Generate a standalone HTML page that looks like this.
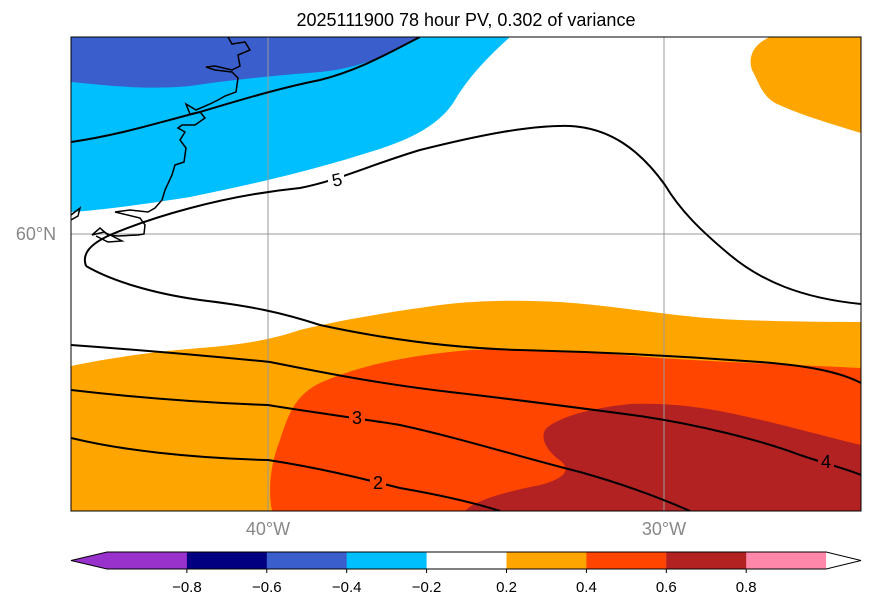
<!DOCTYPE html>
<html><head><meta charset="utf-8"><style>
body{margin:0;background:#fff;font-family:"Liberation Sans",sans-serif}
</style></head><body>
<svg width="873" height="608" viewBox="0 0 873 608">
<text x="466" y="26" font-size="18" text-anchor="middle">2025111900 78 hour PV, 0.302 of variance</text>
<defs><clipPath id="mc"><rect x="71" y="37" width="790" height="474"/></clipPath></defs>
<g clip-path="url(#mc)">
<rect x="71" y="37" width="790" height="474" fill="#fff"/>
<path fill="#00bfff" d="M71,37 L510,37 C490,55 470,75 455,100 C440,125 410,140 370,152 C320,168 260,183 190,197 C140,205 100,210 71,212 Z"/>
<path fill="#3a5fcd" d="M71,37 L418,37 C390,55 360,68 320,72 C270,76 230,80 190,86 C150,90 110,86 71,82 Z"/>
<path fill="#ffa500" d="M770,37 L861,37 L861,133 C835,125 800,115 775,103 C762,95 760,85 752,70 C748,58 752,45 770,37 Z"/>
<path fill="#ffa500" d="M71,366 C110,358 150,352 200,348 C240,345 270,340 300,330 C340,320 390,312 440,305 C480,300 520,300 560,302 C620,306 680,318 740,320 C800,322 840,322 861,322 L861,511 L71,511 Z"/>
<path fill="#ff4500" d="M272,511 C268,490 270,465 280,440 C288,415 295,395 320,383 C360,365 410,355 470,350 C530,348 600,353 660,358 C720,362 800,365 861,368 L861,511 Z"/>
<path fill="#b22222" d="M465,511 C475,500 505,492 540,485 C560,480 572,472 562,462 C548,452 540,440 545,430 C555,418 590,408 630,404 C680,402 720,410 770,422 C810,432 840,440 861,445 L861,511 Z"/>
<g fill="none" stroke="#999" stroke-width="1">
<line x1="268" y1="37" x2="268" y2="511"/><line x1="664" y1="37" x2="664" y2="511"/><line x1="71" y1="234" x2="861" y2="234"/>
</g>
<g fill="none" stroke="#000" stroke-width="1.5">
<path d="M228,37 L232,44 L245,42 L250,50 L238,55 L240,66 L232,70 L215,66 L206,67 L215,70 L232,72 L238,78 L236,92 L225,96 L218,100 L210,104 L196,110 L186,104 L190,114 L200,112 L205,118 L195,125 L182,125 L178,128 L185,132 L180,140 L186,148 L184,162 L175,165 L172,175 L165,190 L162,200 L155,208 L148,212 L130,210 L115,212 L140,218 L145,225 L144,234 L138,235 L118,236 L108,235 L100,228 L92,235 L104,232 L122,241 L108,242 L96,236"/>
<path d="M71,215 L80,208 L78,216 L71,220"/>
</g>
<g fill="none" stroke="#000" stroke-width="2">
<path d="M71,142 C120,135 160,122 200,112 C240,100 280,88 320,80 C360,70 390,52 420,37"/>
<path d="M86,266 C82,255 88,245 110,235 C150,218 220,196 300,188 C340,180 370,165 420,150 C480,135 530,125 570,126 C610,128 640,150 665,185 C680,210 700,230 730,255 C760,280 800,298 861,304"/>
<path d="M86,266 C110,280 150,293 200,300 C250,306 280,312 320,325 C380,338 450,348 520,350 C600,352 680,356 760,362 C810,366 840,372 861,383"/>
<path d="M71,345 C140,350 210,356 270,362 C320,372 380,384 450,392 C520,400 580,408 640,416 C700,425 760,440 800,455 C830,465 850,470 861,475"/>
<path d="M71,390 C140,398 210,403 268,405 C310,412 350,417 400,425 C460,438 520,457 580,472 C630,486 665,500 690,511"/>
<path d="M71,438 C120,450 190,458 268,460 C320,468 360,478 400,488 C440,495 475,503 500,511"/>
</g>
<g font-size="18" text-anchor="middle">
<rect x="328" y="170" width="16" height="18" fill="#fff"/><text x="337" y="186" transform="rotate(-12 337 180)">5</text>
<rect x="349" y="408" width="16" height="18" fill="#ff4500"/><text x="357" y="424">3</text>
<rect x="370" y="473" width="16" height="18" fill="#ff4500"/><text x="378" y="489">2</text>
<rect x="818" y="452" width="16" height="18" fill="#b22222"/><text x="826" y="468">4</text>
</g>
</g>
<rect x="71" y="37" width="790" height="474" fill="none" stroke="#000" stroke-width="1"/>
<g font-size="18" fill="#888">
<text x="36" y="240" text-anchor="middle">60°N</text>
<text x="268" y="535" text-anchor="middle">40°W</text>
<text x="664" y="535" text-anchor="middle">30°W</text>
</g>
<g id="cbar"></g>
</svg>
<script>
const levels=[-1,-0.8,-0.6,-0.4,-0.2,0.2,0.4,0.6,0.8,1];
const colors=['#9932cc','#000080','#3a5fcd','#00bfff','#ffffff','#ffa500','#ff4500','#b22222','#ff88aa'];
const tickLabels=['−0.8','−0.6','−0.4','−0.2','0.2','0.4','0.6','0.8'];
(function(){
var cb=document.getElementById('cbar');
var ns='http://www.w3.org/2000/svg';
var x0=107,step=79.9,y0=552,h=17;
function mk(t,a){var e=document.createElementNS(ns,t);for(var k in a)e.setAttribute(k,a[k]);cb.appendChild(e);return e;}
var l=mk('polygon',{points:'71,'+(y0+h/2)+' '+x0+','+y0+' '+x0+','+(y0+h),fill:colors[0]});


for(var i=0;i<colors.length;i++){
 var r=mk('rect',{x:x0+i*step,y:y0,width:step+0.5,height:h,fill:colors[i]});
 
 
}
var xe=x0+colors.length*step;
var rt=mk('polygon',{points:xe+','+y0+' 861,'+(y0+h/2)+' '+xe+','+(y0+h),fill:'#fff'});


mk('polygon',{points:'71,'+(y0+h/2)+' '+x0+','+y0+' '+xe+','+y0+' 861,'+(y0+h/2)+' '+xe+','+(y0+h)+' '+x0+','+(y0+h),fill:'none',stroke:'#000','stroke-width':1});
for(var j=0;j<tickLabels.length;j++){
 var x=x0+(j+1)*step;
 mk('line',{x1:x,y1:y0+h,x2:x,y2:y0+h+4,stroke:'#000'});
 var tx=mk('text',{x:x,y:592,'font-size':15,'text-anchor':'middle'});
 tx.textContent=tickLabels[j];
 
 
}
})();
</script>
</body></html>
